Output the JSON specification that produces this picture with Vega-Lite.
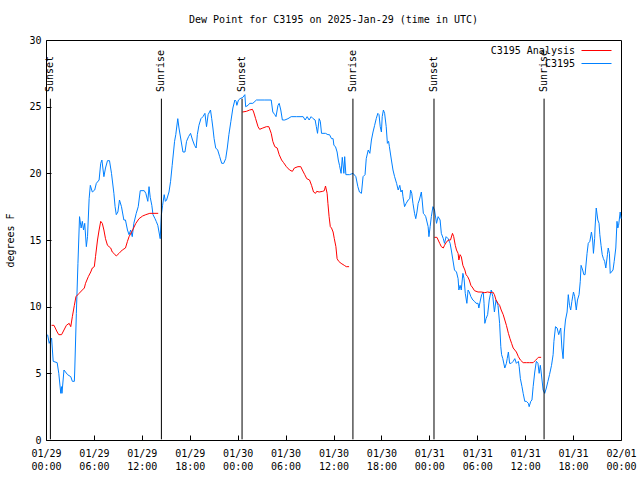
{
  "$schema": "https://vega.github.io/schema/vega-lite/v6.json",
  "autosize": "none",
  "width": 575,
  "height": 400,
  "padding": {"left": 46, "top": 40, "right": 19, "bottom": 40},
  "background": "white",
  "title": {"text": "Dew Point for C3195 on 2025-Jan-29 (time in UTC)", "font": "DejaVu Sans Mono", "fontSize": 10, "fontWeight": "normal", "anchor": "middle", "frame": "group", "offset": 10, "color": "black"},
  "config": {
    "font": "DejaVu Sans Mono",
    "view": {"stroke": "black", "strokeWidth": 1},
    "axis": {"domain": false, "grid": false, "tickColor": "black", "tickWidth": 1, "labelColor": "black", "labelFont": "DejaVu Sans Mono", "labelFontSize": 10, "titleFont": "DejaVu Sans Mono", "titleFontSize": 10, "titleFontWeight": "normal", "titleColor": "black"}
  },
  "datasets": {
    "obs": [
      {"t":"2025-01-29T00:12Z","v":7.9},{"t":"2025-01-29T00:24Z","v":7.25},{"t":"2025-01-29T00:42Z","v":7.65},{"t":"2025-01-29T00:54Z","v":5.9},
      {"t":"2025-01-29T01:24Z","v":5.8},{"t":"2025-01-29T01:36Z","v":5.0},{"t":"2025-01-29T01:51Z","v":3.5},{"t":"2025-01-29T01:57Z","v":4.0},
      {"t":"2025-01-29T02:00Z","v":3.5},{"t":"2025-01-29T02:15Z","v":5.25},{"t":"2025-01-29T02:42Z","v":4.9},{"t":"2025-01-29T03:06Z","v":4.75},
      {"t":"2025-01-29T03:18Z","v":4.4},{"t":"2025-01-29T03:33Z","v":4.4},{"t":"2025-01-29T03:36Z","v":5.25},{"t":"2025-01-29T03:48Z","v":9.5},
      {"t":"2025-01-29T04:00Z","v":13.25},{"t":"2025-01-29T04:12Z","v":16.75},{"t":"2025-01-29T04:24Z","v":15.9},{"t":"2025-01-29T04:33Z","v":16.4},
      {"t":"2025-01-29T04:42Z","v":15.75},{"t":"2025-01-29T04:51Z","v":16.25},{"t":"2025-01-29T05:03Z","v":14.5},{"t":"2025-01-29T05:12Z","v":15.25},
      {"t":"2025-01-29T05:24Z","v":18.1},{"t":"2025-01-29T05:33Z","v":19.1},{"t":"2025-01-29T05:48Z","v":18.6},{"t":"2025-01-29T06:06Z","v":18.75},
      {"t":"2025-01-29T06:18Z","v":19.25},{"t":"2025-01-29T06:39Z","v":19.5},{"t":"2025-01-29T06:51Z","v":20.75},{"t":"2025-01-29T07:00Z","v":21.0},
      {"t":"2025-01-29T07:15Z","v":19.75},{"t":"2025-01-29T07:27Z","v":20.4},{"t":"2025-01-29T07:42Z","v":20.95},{"t":"2025-01-29T07:57Z","v":20.95},
      {"t":"2025-01-29T08:12Z","v":20.0},{"t":"2025-01-29T08:30Z","v":18.5},{"t":"2025-01-29T08:39Z","v":17.5},{"t":"2025-01-29T08:48Z","v":16.9},
      {"t":"2025-01-29T09:00Z","v":17.1},{"t":"2025-01-29T09:12Z","v":18.0},{"t":"2025-01-29T09:27Z","v":17.5},{"t":"2025-01-29T09:45Z","v":16.5},
      {"t":"2025-01-29T09:57Z","v":16.5},{"t":"2025-01-29T10:12Z","v":15.75},{"t":"2025-01-29T10:24Z","v":15.4},{"t":"2025-01-29T10:36Z","v":15.75},
      {"t":"2025-01-29T10:48Z","v":15.25},{"t":"2025-01-29T11:00Z","v":16.25},{"t":"2025-01-29T11:18Z","v":17.0},{"t":"2025-01-29T11:33Z","v":17.5},
      {"t":"2025-01-29T11:48Z","v":18.7},{"t":"2025-01-29T12:18Z","v":18.7},{"t":"2025-01-29T12:30Z","v":18.5},{"t":"2025-01-29T12:45Z","v":17.9},
      {"t":"2025-01-29T12:54Z","v":19.0},{"t":"2025-01-29T13:03Z","v":18.2},{"t":"2025-01-29T13:15Z","v":17.6},{"t":"2025-01-29T13:24Z","v":16.9},
      {"t":"2025-01-29T13:39Z","v":16.6},{"t":"2025-01-29T13:48Z","v":16.4},{"t":"2025-01-29T14:00Z","v":16.1},{"t":"2025-01-29T14:09Z","v":15.6},
      {"t":"2025-01-29T14:18Z","v":15.1},{"t":"2025-01-29T14:27Z","v":16.9},{"t":"2025-01-29T14:36Z","v":17.6},{"t":"2025-01-29T14:48Z","v":18.4},
      {"t":"2025-01-29T14:57Z","v":17.9},{"t":"2025-01-29T15:06Z","v":18.0},{"t":"2025-01-29T15:24Z","v":18.6},{"t":"2025-01-29T15:36Z","v":19.4},
      {"t":"2025-01-29T15:48Z","v":20.6},{"t":"2025-01-29T16:06Z","v":22.4},{"t":"2025-01-29T16:15Z","v":22.9},{"t":"2025-01-29T16:30Z","v":24.1},
      {"t":"2025-01-29T16:39Z","v":23.4},{"t":"2025-01-29T16:54Z","v":22.5},{"t":"2025-01-29T17:09Z","v":21.6},{"t":"2025-01-29T17:24Z","v":21.6},
      {"t":"2025-01-29T17:36Z","v":22.4},{"t":"2025-01-29T17:51Z","v":22.75},{"t":"2025-01-29T18:06Z","v":23.0},{"t":"2025-01-29T18:21Z","v":22.5},
      {"t":"2025-01-29T18:36Z","v":22.1},{"t":"2025-01-29T18:48Z","v":21.9},{"t":"2025-01-29T18:57Z","v":22.9},{"t":"2025-01-29T19:09Z","v":23.6},
      {"t":"2025-01-29T19:24Z","v":24.1},{"t":"2025-01-29T19:39Z","v":24.25},{"t":"2025-01-29T19:54Z","v":24.5},{"t":"2025-01-29T20:06Z","v":23.5},
      {"t":"2025-01-29T20:18Z","v":24.4},{"t":"2025-01-29T20:36Z","v":24.75},{"t":"2025-01-29T20:45Z","v":24.1},{"t":"2025-01-29T20:54Z","v":23.4},
      {"t":"2025-01-29T21:03Z","v":22.6},{"t":"2025-01-29T21:15Z","v":21.9},{"t":"2025-01-29T21:30Z","v":21.75},{"t":"2025-01-29T21:45Z","v":21.25},
      {"t":"2025-01-29T22:00Z","v":20.75},{"t":"2025-01-29T22:15Z","v":20.75},{"t":"2025-01-29T22:30Z","v":21.1},{"t":"2025-01-29T22:42Z","v":21.9},
      {"t":"2025-01-29T22:54Z","v":22.9},{"t":"2025-01-29T23:09Z","v":23.9},{"t":"2025-01-29T23:24Z","v":24.9},{"t":"2025-01-29T23:39Z","v":25.5},
      {"t":"2025-01-29T23:48Z","v":25.4},{"t":"2025-01-29T23:54Z","v":25.1},
      {"t":"2025-01-30T00:06Z","v":25.5},{"t":"2025-01-30T00:18Z","v":25.6},{"t":"2025-01-30T00:39Z","v":25.7},{"t":"2025-01-30T00:54Z","v":25.9},
      {"t":"2025-01-30T01:00Z","v":25.0},{"t":"2025-01-30T01:18Z","v":25.1},{"t":"2025-01-30T01:30Z","v":25.25},{"t":"2025-01-30T01:54Z","v":25.25},
      {"t":"2025-01-30T02:21Z","v":25.5},{"t":"2025-01-30T02:48Z","v":25.5},{"t":"2025-01-30T03:24Z","v":25.5},{"t":"2025-01-30T04:12Z","v":25.5},
      {"t":"2025-01-30T04:24Z","v":24.6},{"t":"2025-01-30T04:39Z","v":24.4},{"t":"2025-01-30T04:48Z","v":24.25},{"t":"2025-01-30T05:03Z","v":25.1},
      {"t":"2025-01-30T05:12Z","v":25.25},{"t":"2025-01-30T05:24Z","v":24.75},{"t":"2025-01-30T05:36Z","v":24.0},{"t":"2025-01-30T05:54Z","v":24.0},
      {"t":"2025-01-30T06:18Z","v":24.1},{"t":"2025-01-30T06:42Z","v":24.25},{"t":"2025-01-30T07:21Z","v":24.25},{"t":"2025-01-30T08:12Z","v":24.25},
      {"t":"2025-01-30T08:27Z","v":24.0},{"t":"2025-01-30T08:42Z","v":24.25},{"t":"2025-01-30T08:57Z","v":24.0},{"t":"2025-01-30T09:12Z","v":24.25},
      {"t":"2025-01-30T09:27Z","v":24.1},{"t":"2025-01-30T09:42Z","v":24.0},{"t":"2025-01-30T09:51Z","v":23.5},{"t":"2025-01-30T10:00Z","v":23.0},
      {"t":"2025-01-30T10:12Z","v":24.1},{"t":"2025-01-30T10:21Z","v":23.9},{"t":"2025-01-30T10:30Z","v":23.0},{"t":"2025-01-30T11:00Z","v":23.0},
      {"t":"2025-01-30T11:18Z","v":22.9},{"t":"2025-01-30T11:30Z","v":22.9},{"t":"2025-01-30T11:45Z","v":22.6},{"t":"2025-01-30T11:57Z","v":22.6},
      {"t":"2025-01-30T12:03Z","v":22.1},{"t":"2025-01-30T12:15Z","v":22.0},{"t":"2025-01-30T12:27Z","v":21.6},{"t":"2025-01-30T12:36Z","v":21.0},
      {"t":"2025-01-30T12:45Z","v":20.6},{"t":"2025-01-30T12:57Z","v":20.0},{"t":"2025-01-30T13:06Z","v":21.2},{"t":"2025-01-30T13:18Z","v":20.0},
      {"t":"2025-01-30T13:24Z","v":21.25},{"t":"2025-01-30T13:33Z","v":19.9},{"t":"2025-01-30T14:00Z","v":19.9},{"t":"2025-01-30T14:27Z","v":20.0},
      {"t":"2025-01-30T14:48Z","v":19.75},{"t":"2025-01-30T15:03Z","v":19.0},{"t":"2025-01-30T15:15Z","v":18.6},{"t":"2025-01-30T15:30Z","v":18.5},
      {"t":"2025-01-30T15:42Z","v":19.75},{"t":"2025-01-30T15:57Z","v":19.9},{"t":"2025-01-30T16:06Z","v":21.1},{"t":"2025-01-30T16:21Z","v":21.75},
      {"t":"2025-01-30T16:33Z","v":21.5},{"t":"2025-01-30T16:45Z","v":22.5},{"t":"2025-01-30T16:57Z","v":23.1},{"t":"2025-01-30T17:09Z","v":23.6},
      {"t":"2025-01-30T17:21Z","v":24.1},{"t":"2025-01-30T17:33Z","v":24.5},{"t":"2025-01-30T17:42Z","v":24.4},{"t":"2025-01-30T17:51Z","v":23.5},
      {"t":"2025-01-30T18:00Z","v":23.1},{"t":"2025-01-30T18:06Z","v":24.25},{"t":"2025-01-30T18:15Z","v":24.75},{"t":"2025-01-30T18:24Z","v":24.5},
      {"t":"2025-01-30T18:36Z","v":23.5},{"t":"2025-01-30T18:45Z","v":22.25},{"t":"2025-01-30T18:54Z","v":22.4},{"t":"2025-01-30T19:00Z","v":22.0},
      {"t":"2025-01-30T19:15Z","v":21.0},{"t":"2025-01-30T19:27Z","v":20.25},{"t":"2025-01-30T19:39Z","v":19.75},{"t":"2025-01-30T19:54Z","v":19.25},
      {"t":"2025-01-30T20:06Z","v":18.75},{"t":"2025-01-30T20:18Z","v":19.1},{"t":"2025-01-30T20:27Z","v":18.6},{"t":"2025-01-30T20:36Z","v":18.75},
      {"t":"2025-01-30T20:42Z","v":18.25},{"t":"2025-01-30T20:54Z","v":17.5},{"t":"2025-01-30T21:06Z","v":17.75},{"t":"2025-01-30T21:21Z","v":18.0},
      {"t":"2025-01-30T21:33Z","v":18.1},{"t":"2025-01-30T21:39Z","v":18.75},{"t":"2025-01-30T21:48Z","v":18.5},{"t":"2025-01-30T21:57Z","v":17.75},
      {"t":"2025-01-30T22:09Z","v":17.0},{"t":"2025-01-30T22:18Z","v":16.6},{"t":"2025-01-30T22:27Z","v":17.1},{"t":"2025-01-30T22:36Z","v":17.75},
      {"t":"2025-01-30T22:45Z","v":18.0},{"t":"2025-01-30T23:00Z","v":18.6},{"t":"2025-01-30T23:06Z","v":18.0},{"t":"2025-01-30T23:15Z","v":17.0},
      {"t":"2025-01-30T23:24Z","v":16.9},{"t":"2025-01-30T23:33Z","v":16.75},{"t":"2025-01-30T23:51Z","v":16.0},{"t":"2025-01-30T23:57Z","v":15.25},
      {"t":"2025-01-31T00:06Z","v":16.0},{"t":"2025-01-31T00:15Z","v":16.75},{"t":"2025-01-31T00:27Z","v":17.5},{"t":"2025-01-31T00:39Z","v":17.25},
      {"t":"2025-01-31T00:54Z","v":16.25},{"t":"2025-01-31T01:06Z","v":16.75},{"t":"2025-01-31T01:21Z","v":16.5},{"t":"2025-01-31T01:30Z","v":15.5},
      {"t":"2025-01-31T01:45Z","v":15.1},{"t":"2025-01-31T01:54Z","v":14.75},{"t":"2025-01-31T02:06Z","v":15.25},{"t":"2025-01-31T02:21Z","v":15.1},
      {"t":"2025-01-31T02:36Z","v":14.75},{"t":"2025-01-31T02:45Z","v":14.25},{"t":"2025-01-31T02:57Z","v":13.5},{"t":"2025-01-31T03:09Z","v":12.75},
      {"t":"2025-01-31T03:24Z","v":12.6},{"t":"2025-01-31T03:36Z","v":12.1},{"t":"2025-01-31T03:42Z","v":11.25},{"t":"2025-01-31T03:51Z","v":11.6},
      {"t":"2025-01-31T04:00Z","v":11.25},{"t":"2025-01-31T04:12Z","v":12.5},{"t":"2025-01-31T04:21Z","v":12.1},{"t":"2025-01-31T04:30Z","v":11.0},
      {"t":"2025-01-31T04:42Z","v":10.25},{"t":"2025-01-31T04:51Z","v":11.25},{"t":"2025-01-31T05:00Z","v":11.1},{"t":"2025-01-31T05:12Z","v":10.75},
      {"t":"2025-01-31T05:27Z","v":10.5},{"t":"2025-01-31T05:39Z","v":10.4},{"t":"2025-01-31T05:51Z","v":10.25},{"t":"2025-01-31T06:06Z","v":10.25},
      {"t":"2025-01-31T06:12Z","v":9.9},{"t":"2025-01-31T06:24Z","v":10.5},{"t":"2025-01-31T06:33Z","v":10.9},{"t":"2025-01-31T06:45Z","v":11.1},
      {"t":"2025-01-31T06:51Z","v":10.25},{"t":"2025-01-31T06:57Z","v":8.75},{"t":"2025-01-31T07:06Z","v":9.1},{"t":"2025-01-31T07:18Z","v":9.4},
      {"t":"2025-01-31T07:30Z","v":10.5},{"t":"2025-01-31T07:45Z","v":11.25},{"t":"2025-01-31T07:57Z","v":10.75},{"t":"2025-01-31T08:09Z","v":9.6},
      {"t":"2025-01-31T08:21Z","v":10.5},{"t":"2025-01-31T08:36Z","v":10.1},{"t":"2025-01-31T08:48Z","v":8.75},{"t":"2025-01-31T08:57Z","v":7.0},
      {"t":"2025-01-31T09:03Z","v":6.4},{"t":"2025-01-31T09:12Z","v":6.1},{"t":"2025-01-31T09:27Z","v":5.4},{"t":"2025-01-31T09:39Z","v":5.75},
      {"t":"2025-01-31T09:45Z","v":6.1},{"t":"2025-01-31T09:54Z","v":6.6},{"t":"2025-01-31T10:03Z","v":5.75},{"t":"2025-01-31T10:15Z","v":5.75},
      {"t":"2025-01-31T10:30Z","v":5.9},{"t":"2025-01-31T10:42Z","v":6.1},{"t":"2025-01-31T10:54Z","v":5.75},{"t":"2025-01-31T11:09Z","v":5.9},
      {"t":"2025-01-31T11:15Z","v":5.5},{"t":"2025-01-31T11:24Z","v":4.6},{"t":"2025-01-31T11:36Z","v":4.0},{"t":"2025-01-31T11:45Z","v":3.5},
      {"t":"2025-01-31T11:57Z","v":2.9},{"t":"2025-01-31T12:09Z","v":2.9},{"t":"2025-01-31T12:24Z","v":2.75},{"t":"2025-01-31T12:30Z","v":2.5},
      {"t":"2025-01-31T12:42Z","v":2.9},{"t":"2025-01-31T12:51Z","v":3.0},{"t":"2025-01-31T13:00Z","v":4.0},{"t":"2025-01-31T13:12Z","v":5.1},
      {"t":"2025-01-31T13:24Z","v":5.9},{"t":"2025-01-31T13:36Z","v":5.75},{"t":"2025-01-31T13:45Z","v":5.0},{"t":"2025-01-31T13:54Z","v":5.6},
      {"t":"2025-01-31T14:00Z","v":5.1},{"t":"2025-01-31T14:15Z","v":3.75},{"t":"2025-01-31T14:27Z","v":3.5},{"t":"2025-01-31T14:39Z","v":3.9},
      {"t":"2025-01-31T14:51Z","v":4.4},{"t":"2025-01-31T15:03Z","v":4.9},{"t":"2025-01-31T15:18Z","v":5.6},{"t":"2025-01-31T15:30Z","v":6.4},
      {"t":"2025-01-31T15:36Z","v":7.4},{"t":"2025-01-31T15:48Z","v":8.5},{"t":"2025-01-31T16:00Z","v":8.4},{"t":"2025-01-31T16:12Z","v":7.9},
      {"t":"2025-01-31T16:27Z","v":8.4},{"t":"2025-01-31T16:36Z","v":6.9},{"t":"2025-01-31T16:45Z","v":6.1},{"t":"2025-01-31T16:54Z","v":8.1},
      {"t":"2025-01-31T17:03Z","v":9.0},{"t":"2025-01-31T17:15Z","v":9.6},{"t":"2025-01-31T17:24Z","v":10.9},{"t":"2025-01-31T17:33Z","v":10.1},
      {"t":"2025-01-31T17:42Z","v":9.75},{"t":"2025-01-31T17:51Z","v":10.4},{"t":"2025-01-31T18:03Z","v":11.1},{"t":"2025-01-31T18:12Z","v":10.75},
      {"t":"2025-01-31T18:24Z","v":9.75},{"t":"2025-01-31T18:33Z","v":10.5},{"t":"2025-01-31T18:45Z","v":10.9},{"t":"2025-01-31T18:54Z","v":11.9},
      {"t":"2025-01-31T19:00Z","v":13.1},{"t":"2025-01-31T19:12Z","v":12.75},{"t":"2025-01-31T19:21Z","v":12.4},{"t":"2025-01-31T19:30Z","v":12.4},
      {"t":"2025-01-31T19:45Z","v":14.0},{"t":"2025-01-31T19:54Z","v":14.75},{"t":"2025-01-31T20:06Z","v":14.9},{"t":"2025-01-31T20:18Z","v":15.6},
      {"t":"2025-01-31T20:27Z","v":15.0},{"t":"2025-01-31T20:33Z","v":14.0},{"t":"2025-01-31T20:42Z","v":15.1},{"t":"2025-01-31T20:45Z","v":15.9},
      {"t":"2025-01-31T20:54Z","v":17.4},{"t":"2025-01-31T21:06Z","v":16.5},{"t":"2025-01-31T21:15Z","v":16.25},{"t":"2025-01-31T21:21Z","v":15.4},
      {"t":"2025-01-31T21:30Z","v":14.6},{"t":"2025-01-31T21:39Z","v":13.9},{"t":"2025-01-31T21:48Z","v":13.6},{"t":"2025-01-31T21:57Z","v":13.4},
      {"t":"2025-01-31T22:06Z","v":12.9},{"t":"2025-01-31T22:18Z","v":13.9},{"t":"2025-01-31T22:24Z","v":14.4},{"t":"2025-01-31T22:33Z","v":14.0},
      {"t":"2025-01-31T22:39Z","v":12.5},{"t":"2025-01-31T22:48Z","v":12.6},{"t":"2025-01-31T23:00Z","v":12.75},{"t":"2025-01-31T23:09Z","v":13.4},
      {"t":"2025-01-31T23:21Z","v":14.4},{"t":"2025-01-31T23:30Z","v":16.4},{"t":"2025-01-31T23:36Z","v":15.9},{"t":"2025-01-31T23:42Z","v":16.1},
      {"t":"2025-01-31T23:54Z","v":17.1},{"t":"2025-02-01T00:00Z","v":16.6}
    ],
    "anal": [
      {"t":"2025-01-29T00:42Z","v":8.6,"seg":1},{"t":"2025-01-29T01:00Z","v":8.6,"seg":1},{"t":"2025-01-29T01:24Z","v":8.1,"seg":1},{"t":"2025-01-29T01:36Z","v":7.9,"seg":1},
      {"t":"2025-01-29T01:57Z","v":7.9,"seg":1},{"t":"2025-01-29T02:15Z","v":8.25,"seg":1},{"t":"2025-01-29T02:33Z","v":8.6,"seg":1},{"t":"2025-01-29T02:54Z","v":8.75,"seg":1},
      {"t":"2025-01-29T03:06Z","v":8.5,"seg":1},{"t":"2025-01-29T03:18Z","v":9.25,"seg":1},{"t":"2025-01-29T03:33Z","v":10.1,"seg":1},{"t":"2025-01-29T03:45Z","v":10.75,"seg":1},
      {"t":"2025-01-29T04:09Z","v":11.0,"seg":1},{"t":"2025-01-29T04:33Z","v":11.25,"seg":1},{"t":"2025-01-29T04:48Z","v":11.4,"seg":1},{"t":"2025-01-29T04:57Z","v":11.75,"seg":1},
      {"t":"2025-01-29T05:18Z","v":12.25,"seg":1},{"t":"2025-01-29T05:36Z","v":12.6,"seg":1},{"t":"2025-01-29T05:48Z","v":12.9,"seg":1},{"t":"2025-01-29T06:03Z","v":13.0,"seg":1},
      {"t":"2025-01-29T06:12Z","v":13.75,"seg":1},{"t":"2025-01-29T06:27Z","v":15.0,"seg":1},{"t":"2025-01-29T06:39Z","v":15.75,"seg":1},{"t":"2025-01-29T06:51Z","v":16.4,"seg":1},
      {"t":"2025-01-29T07:03Z","v":16.25,"seg":1},{"t":"2025-01-29T07:15Z","v":15.75,"seg":1},{"t":"2025-01-29T07:27Z","v":15.1,"seg":1},{"t":"2025-01-29T07:42Z","v":14.6,"seg":1},
      {"t":"2025-01-29T08:06Z","v":14.4,"seg":1},{"t":"2025-01-29T08:18Z","v":14.1,"seg":1},{"t":"2025-01-29T08:30Z","v":14.0,"seg":1},{"t":"2025-01-29T08:48Z","v":13.8,"seg":1},
      {"t":"2025-01-29T09:09Z","v":14.0,"seg":1},{"t":"2025-01-29T09:33Z","v":14.25,"seg":1},{"t":"2025-01-29T09:57Z","v":14.4,"seg":1},{"t":"2025-01-29T10:12Z","v":14.9,"seg":1},
      {"t":"2025-01-29T10:24Z","v":15.25,"seg":1},{"t":"2025-01-29T10:51Z","v":15.75,"seg":1},{"t":"2025-01-29T11:15Z","v":16.25,"seg":1},{"t":"2025-01-29T11:39Z","v":16.6,"seg":1},
      {"t":"2025-01-29T12:06Z","v":16.8,"seg":1},{"t":"2025-01-29T12:30Z","v":16.9,"seg":1},{"t":"2025-01-29T13:00Z","v":17.0,"seg":1},{"t":"2025-01-29T14:03Z","v":17.0,"seg":1},
      {"t":"2025-01-30T00:36Z","v":24.6,"seg":2},{"t":"2025-01-30T01:06Z","v":24.65,"seg":2},{"t":"2025-01-30T01:30Z","v":24.75,"seg":2},{"t":"2025-01-30T01:51Z","v":24.8,"seg":2},
      {"t":"2025-01-30T02:00Z","v":24.6,"seg":2},{"t":"2025-01-30T02:15Z","v":24.1,"seg":2},{"t":"2025-01-30T02:33Z","v":23.5,"seg":2},{"t":"2025-01-30T02:45Z","v":23.3,"seg":2},
      {"t":"2025-01-30T03:09Z","v":23.4,"seg":2},{"t":"2025-01-30T03:36Z","v":23.5,"seg":2},{"t":"2025-01-30T03:54Z","v":23.5,"seg":2},{"t":"2025-01-30T04:12Z","v":23.0,"seg":2},
      {"t":"2025-01-30T04:24Z","v":22.4,"seg":2},{"t":"2025-01-30T04:39Z","v":22.0,"seg":2},{"t":"2025-01-30T04:57Z","v":21.9,"seg":2},{"t":"2025-01-30T05:12Z","v":21.4,"seg":2},
      {"t":"2025-01-30T05:30Z","v":21.0,"seg":2},{"t":"2025-01-30T05:45Z","v":20.8,"seg":2},{"t":"2025-01-30T06:06Z","v":20.5,"seg":2},{"t":"2025-01-30T06:30Z","v":20.25,"seg":2},
      {"t":"2025-01-30T06:51Z","v":20.15,"seg":2},{"t":"2025-01-30T07:06Z","v":20.4,"seg":2},{"t":"2025-01-30T07:33Z","v":20.5,"seg":2},{"t":"2025-01-30T07:54Z","v":20.5,"seg":2},
      {"t":"2025-01-30T08:06Z","v":20.25,"seg":2},{"t":"2025-01-30T08:24Z","v":19.9,"seg":2},{"t":"2025-01-30T08:39Z","v":19.6,"seg":2},{"t":"2025-01-30T09:00Z","v":19.5,"seg":2},
      {"t":"2025-01-30T09:15Z","v":19.1,"seg":2},{"t":"2025-01-30T09:30Z","v":18.6,"seg":2},{"t":"2025-01-30T09:45Z","v":18.5,"seg":2},{"t":"2025-01-30T09:54Z","v":18.65,"seg":2},
      {"t":"2025-01-30T10:12Z","v":18.6,"seg":2},{"t":"2025-01-30T10:39Z","v":18.65,"seg":2},{"t":"2025-01-30T10:51Z","v":18.7,"seg":2},{"t":"2025-01-30T11:00Z","v":19.05,"seg":2},
      {"t":"2025-01-30T11:12Z","v":18.5,"seg":2},{"t":"2025-01-30T11:18Z","v":17.75,"seg":2},{"t":"2025-01-30T11:27Z","v":16.75,"seg":2},{"t":"2025-01-30T11:36Z","v":16.0,"seg":2},
      {"t":"2025-01-30T11:45Z","v":15.9,"seg":2},{"t":"2025-01-30T11:57Z","v":15.6,"seg":2},{"t":"2025-01-30T12:06Z","v":15.1,"seg":2},{"t":"2025-01-30T12:18Z","v":14.5,"seg":2},
      {"t":"2025-01-30T12:27Z","v":13.6,"seg":2},{"t":"2025-01-30T12:39Z","v":13.4,"seg":2},{"t":"2025-01-30T12:57Z","v":13.25,"seg":2},{"t":"2025-01-30T13:21Z","v":13.1,"seg":2},
      {"t":"2025-01-30T13:36Z","v":13.0,"seg":2},{"t":"2025-01-30T13:57Z","v":13.0,"seg":2},
      {"t":"2025-01-31T00:39Z","v":15.2,"seg":3},{"t":"2025-01-31T00:57Z","v":15.2,"seg":3},{"t":"2025-01-31T01:18Z","v":14.75,"seg":3},{"t":"2025-01-31T01:30Z","v":14.5,"seg":3},
      {"t":"2025-01-31T01:45Z","v":14.4,"seg":3},{"t":"2025-01-31T01:54Z","v":14.6,"seg":3},{"t":"2025-01-31T02:12Z","v":14.9,"seg":3},{"t":"2025-01-31T02:27Z","v":15.0,"seg":3},
      {"t":"2025-01-31T02:39Z","v":15.0,"seg":3},{"t":"2025-01-31T02:54Z","v":15.5,"seg":3},{"t":"2025-01-31T03:03Z","v":15.25,"seg":3},{"t":"2025-01-31T03:15Z","v":14.6,"seg":3},
      {"t":"2025-01-31T03:24Z","v":14.25,"seg":3},{"t":"2025-01-31T03:36Z","v":14.0,"seg":3},{"t":"2025-01-31T03:42Z","v":13.5,"seg":3},{"t":"2025-01-31T03:51Z","v":13.9,"seg":3},
      {"t":"2025-01-31T04:00Z","v":13.75,"seg":3},{"t":"2025-01-31T04:12Z","v":13.1,"seg":3},{"t":"2025-01-31T04:27Z","v":12.75,"seg":3},{"t":"2025-01-31T04:36Z","v":12.4,"seg":3},
      {"t":"2025-01-31T04:48Z","v":12.25,"seg":3},{"t":"2025-01-31T05:00Z","v":12.0,"seg":3},{"t":"2025-01-31T05:12Z","v":11.6,"seg":3},{"t":"2025-01-31T05:27Z","v":11.4,"seg":3},
      {"t":"2025-01-31T05:39Z","v":11.2,"seg":3},{"t":"2025-01-31T06:06Z","v":11.1,"seg":3},{"t":"2025-01-31T06:30Z","v":11.1,"seg":3},{"t":"2025-01-31T06:57Z","v":11.05,"seg":3},
      {"t":"2025-01-31T07:18Z","v":11.1,"seg":3},{"t":"2025-01-31T07:45Z","v":11.05,"seg":3},{"t":"2025-01-31T07:57Z","v":11.1,"seg":3},{"t":"2025-01-31T08:09Z","v":10.9,"seg":3},
      {"t":"2025-01-31T08:21Z","v":10.5,"seg":3},{"t":"2025-01-31T08:36Z","v":10.25,"seg":3},{"t":"2025-01-31T08:48Z","v":10.1,"seg":3},{"t":"2025-01-31T09:00Z","v":9.75,"seg":3},
      {"t":"2025-01-31T09:15Z","v":9.4,"seg":3},{"t":"2025-01-31T09:27Z","v":9.0,"seg":3},{"t":"2025-01-31T09:39Z","v":8.6,"seg":3},{"t":"2025-01-31T09:54Z","v":8.0,"seg":3},
      {"t":"2025-01-31T10:06Z","v":7.6,"seg":3},{"t":"2025-01-31T10:18Z","v":7.25,"seg":3},{"t":"2025-01-31T10:30Z","v":6.9,"seg":3},{"t":"2025-01-31T10:42Z","v":6.75,"seg":3},
      {"t":"2025-01-31T10:54Z","v":6.6,"seg":3},{"t":"2025-01-31T11:09Z","v":6.25,"seg":3},{"t":"2025-01-31T11:24Z","v":6.0,"seg":3},{"t":"2025-01-31T11:45Z","v":5.8,"seg":3},
      {"t":"2025-01-31T12:09Z","v":5.8,"seg":3},{"t":"2025-01-31T12:33Z","v":5.8,"seg":3},{"t":"2025-01-31T13:00Z","v":5.8,"seg":3},{"t":"2025-01-31T13:15Z","v":5.95,"seg":3},
      {"t":"2025-01-31T13:30Z","v":6.1,"seg":3},{"t":"2025-01-31T13:39Z","v":6.2,"seg":3},{"t":"2025-01-31T14:00Z","v":6.2,"seg":3}
    ],
    "sun": [
      {"t":"2025-01-29T00:33Z","event":"Sunset"},{"t":"2025-01-29T14:27Z","event":"Sunrise"},
      {"t":"2025-01-30T00:33Z","event":"Sunset"},{"t":"2025-01-30T14:26Z","event":"Sunrise"},
      {"t":"2025-01-31T00:35Z","event":"Sunset"},{"t":"2025-01-31T14:22Z","event":"Sunrise"}
    ]
  },
  "layer": [
    {
      "data": {"name": "obs"},
      "mark": {"type": "line", "strokeWidth": 1},
      "encoding": {
        "x": {"field": "t", "type": "temporal",
              "scale": {"type": "utc", "domain": [1738108800000, 1738368000000], "nice": false},
              "axis": {"orient": "bottom", "title": null, "offset": -5, "tickSize": 5,
                       "values": [1738108800000, 1738130400000, 1738152000000, 1738173600000, 1738195200000, 1738216800000, 1738238400000, 1738260000000, 1738281600000, 1738303200000, 1738324800000, 1738346400000, 1738368000000],
                       "labelOverlap": false, "labelFlush": false, "labelBound": false,
                       "labelExpr": "[utcFormat(datum.value, '%m/%d'), utcFormat(datum.value, '%H:%M')]",
                       "labelLineHeight": 13, "labelPadding": 8}},
        "y": {"field": "v", "type": "quantitative", "scale": {"domain": [0, 30], "nice": false},
              "axis": {"orient": "left", "title": "degrees F", "offset": -5, "tickSize": 5, "values": [0, 5, 10, 15, 20, 25, 30], "labelPadding": 5, "titlePadding": 13}},
        "color": {"datum": "C3195", "type": "nominal"}
      }
    },
    {
      "data": {"name": "anal"},
      "mark": {"type": "line", "strokeWidth": 1},
      "encoding": {
        "x": {"field": "t", "type": "temporal"},
        "y": {"field": "v", "type": "quantitative"},
        "detail": {"field": "seg", "type": "nominal"},
        "color": {"datum": "C3195 Analysis", "type": "nominal",
                  "scale": {"domain": ["C3195 Analysis", "C3195"], "range": ["#ff0000", "#0080ff"]},
                  "legend": {"orient": "none", "legendX": 545, "legendY": 5, "title": null, "symbolType": "M-3,0H3", "symbolSize": 100, "symbolStrokeWidth": 1, "labelFont": "DejaVu Sans Mono", "labelFontSize": 10, "labelColor": "black", "labelAlign": "right", "labelOffset": -27, "rowPadding": 2, "padding": 0}}
      }
    },
    {
      "data": {"name": "sun"},
      "mark": {"type": "rule", "color": "black", "strokeWidth": 1},
      "encoding": {
        "x": {"field": "t", "type": "temporal"},
        "y": {"datum": 0.05, "type": "quantitative"},
        "y2": {"datum": 25.6}
      }
    },
    {
      "data": {"name": "sun"},
      "mark": {"type": "text", "angle": 270, "align": "left", "baseline": "middle", "font": "DejaVu Sans Mono", "fontSize": 10, "color": "black"},
      "encoding": {
        "x": {"field": "t", "type": "temporal"},
        "y": {"datum": 26.1, "type": "quantitative"},
        "text": {"field": "event", "type": "nominal"}
      }
    }
  ]
}
